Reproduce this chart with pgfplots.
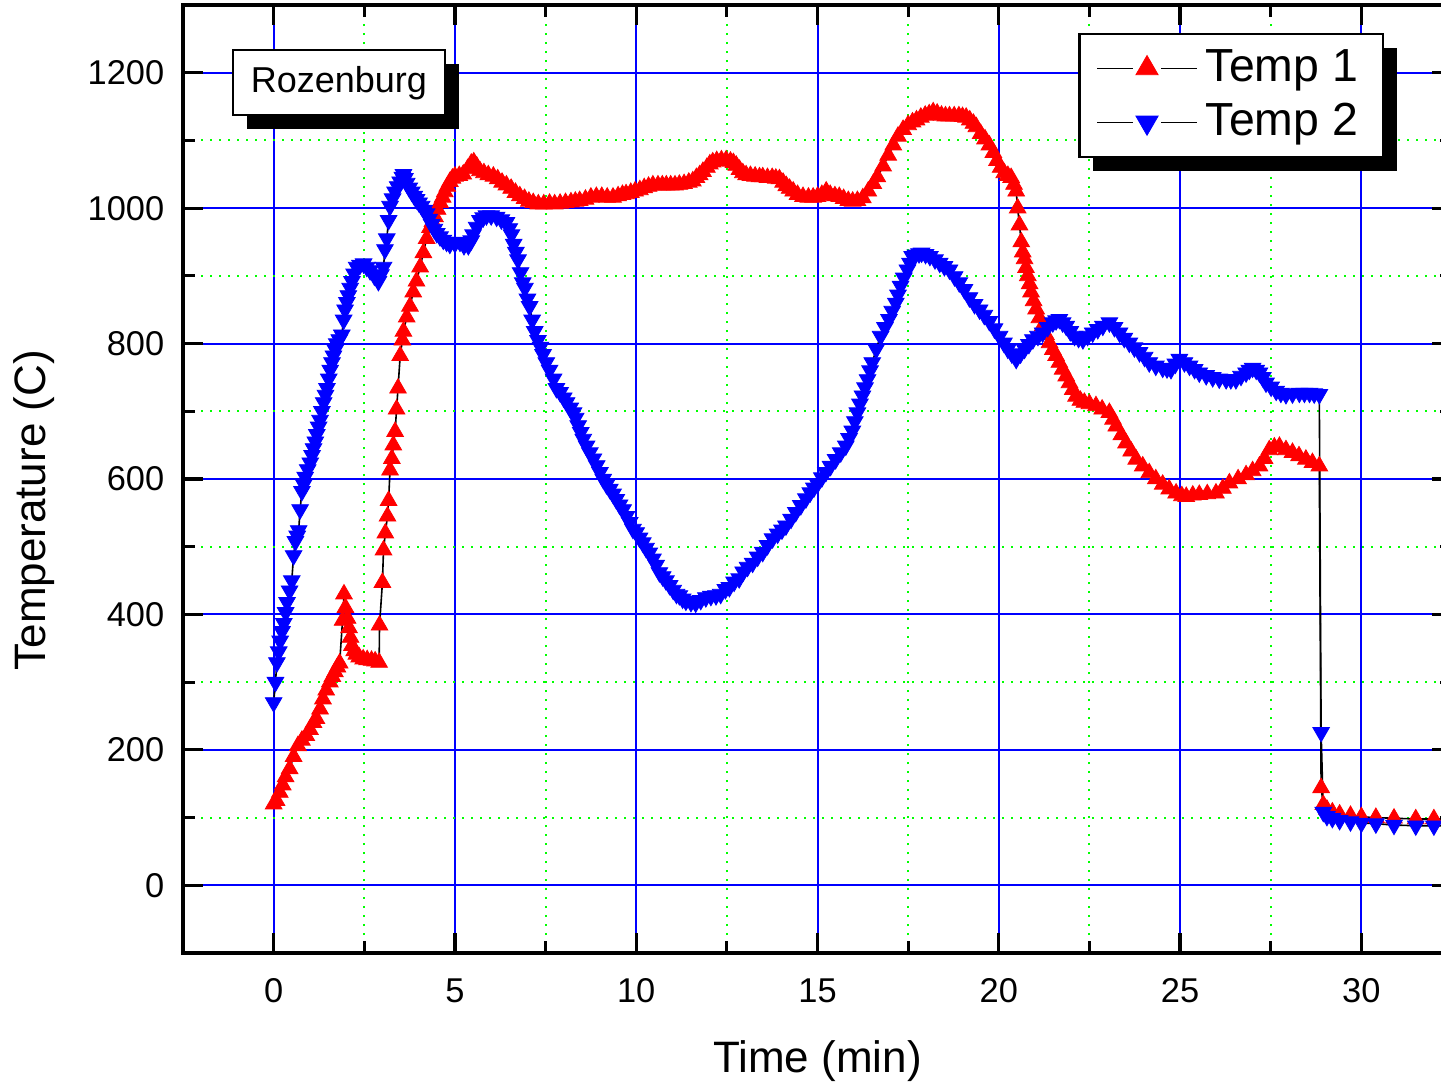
\documentclass[border=0pt]{standalone}
\usepackage{fontspec}
\setmainfont{Liberation Sans}
\usepackage{pgfplots}
\usepackage{pgfplotstable}
\pgfplotsset{compat=1.18}
\usetikzlibrary{shadows}
\definecolor{gridgreen}{RGB}{0,255,0}
\definecolor{pblue}{RGB}{0,0,255}
\definecolor{pred}{RGB}{255,0,0}
\makeatletter
\tikzset{no preactions/.code={\let\tikz@preactions\pgfutil@empty}}
\makeatother

\pgfplotstableread{
t T
0.00 120
0.08 125
0.17 137
0.25 148
0.33 160
0.44 172
0.55 190
0.67 206
0.78 214
0.90 221
1.00 230
1.10 240
1.18 246
1.28 260
1.36 275
1.45 288
1.55 300
1.62 308
1.69 315
1.76 322
1.82 328
1.90 391
1.94 430
1.98 410
2.04 394
2.08 380
2.12 366
2.16 354
2.22 346
2.28 341
2.36 337
2.47 334
2.58 333
2.70 332
2.80 331
2.91 329
2.92 384
3.00 447
3.03 495
3.08 520
3.14 545
3.17 568
3.21 613
3.26 630
3.30 650
3.35 670
3.39 703
3.43 734
3.49 782
3.55 805
3.58 818
3.67 839
3.76 855
3.85 876
3.94 892
4.04 913
4.13 934
4.22 955
4.31 971
4.38 980
4.45 987
4.52 998
4.59 1008
4.66 1016
4.72 1024
4.79 1032
4.86 1039
4.93 1044
5.00 1047
5.12 1048
5.23 1050
5.35 1058
5.45 1066
5.52 1068
5.60 1062
5.69 1055
5.80 1052
5.92 1049
6.06 1047
6.18 1043
6.30 1038
6.42 1034
6.55 1029
6.67 1023
6.79 1018
6.92 1014
7.04 1010
7.16 1008
7.30 1006
7.45 1006
7.61 1007
7.75 1006
7.90 1007
8.05 1008
8.20 1009
8.32 1010
8.44 1011
8.60 1013
8.75 1016
8.90 1017
9.05 1017
9.20 1016
9.36 1016
9.50 1018
9.62 1020
9.72 1021
9.85 1023
9.97 1025
10.10 1027
10.22 1030
10.34 1032
10.46 1034
10.60 1034
10.72 1034
10.83 1034
10.95 1034
11.07 1034
11.19 1035
11.32 1036
11.45 1038
11.56 1040
11.66 1045
11.75 1049
11.84 1054
11.95 1060
12.03 1065
12.11 1068
12.22 1070
12.35 1071
12.48 1071
12.60 1069
12.68 1067
12.76 1063
12.85 1057
12.94 1052
13.03 1049
13.15 1048
13.28 1047
13.40 1046
13.49 1046
13.62 1045
13.75 1045
13.85 1044
13.95 1043
14.05 1038
14.14 1033
14.23 1029
14.33 1025
14.45 1020
14.60 1017
14.75 1016
14.88 1016
15.00 1017
15.12 1020
15.24 1025
15.35 1020
15.48 1018
15.60 1017
15.72 1014
15.85 1011
15.97 1010
16.10 1011
16.25 1015
16.40 1025
16.54 1036
16.65 1046
16.81 1062
16.95 1078
17.09 1093
17.22 1106
17.36 1116
17.50 1123
17.62 1127
17.73 1130
17.85 1134
17.97 1137
18.08 1139
18.19 1142
18.30 1140
18.42 1137
18.53 1136
18.64 1136
18.77 1136
18.90 1136
19.00 1135
19.10 1134
19.20 1130
19.30 1125
19.38 1120
19.50 1110
19.62 1102
19.74 1093
19.85 1082
19.95 1070
20.05 1060
20.15 1052
20.25 1048
20.34 1045
20.42 1035
20.48 1025
20.52 1000
20.57 975
20.62 950
20.66 935
20.71 925
20.75 912
20.80 900
20.85 888
20.89 876
20.96 863
21.03 851
21.12 838
21.21 826
21.30 813
21.40 801
21.49 791
21.58 782
21.67 772
21.76 762
21.86 752
21.95 742
22.04 732
22.13 722
22.25 716
22.36 713
22.50 711
22.68 708
22.85 703
23.05 698
23.15 688
23.24 678
23.38 665
23.51 653
23.65 641
23.79 629
23.97 619
24.15 609
24.33 600
24.52 592
24.70 585
24.89 579
25.05 575
25.17 574
25.35 576
25.53 577
25.75 578
25.99 579
26.18 586
26.36 594
26.60 600
26.82 606
27.00 612
27.19 619
27.33 630
27.46 643
27.60 647
27.74 648
27.92 643
28.10 639
28.28 634
28.47 629
28.65 624
28.84 619
28.89 144
28.95 119
29.05 112
29.20 108
29.40 105
29.70 103
30.00 101
30.40 100
30.90 99
31.50 98
32.00 98
32.50 98
}\tempone

\pgfplotstableread{
t T
0.00 270
0.05 300
0.09 329
0.14 345
0.18 361
0.23 375
0.28 387
0.33 403
0.37 418
0.44 435
0.50 450
0.55 487
0.60 508
0.65 516
0.69 524
0.73 555
0.78 582
0.83 592
0.87 603
0.94 614
1.01 624
1.06 635
1.10 645
1.15 655
1.19 666
1.24 677
1.28 687
1.33 700
1.38 713
1.43 724
1.47 734
1.52 748
1.56 761
1.61 772
1.65 782
1.70 791
1.74 800
1.81 806
1.88 813
1.93 835
1.97 850
2.02 861
2.06 871
2.11 882
2.16 892
2.22 903
2.29 913
2.38 916
2.48 918
2.57 913
2.66 908
2.78 900
2.89 892
2.96 902
3.03 913
3.07 939
3.12 955
3.17 982
3.21 1003
3.28 1014
3.35 1024
3.42 1032
3.49 1039
3.55 1046
3.58 1050
3.62 1044
3.67 1037
3.74 1030
3.81 1024
3.88 1018
3.94 1013
4.01 1008
4.08 1003
4.15 997
4.22 992
4.29 984
4.36 976
4.43 969
4.50 963
4.59 958
4.68 953
4.77 950
4.86 947
5.00 948
5.14 950
5.25 945
5.37 945
5.45 952
5.50 961
5.60 972
5.69 982
5.78 986
5.87 989
6.00 989
6.15 987
6.28 983
6.42 979
6.50 970
6.56 961
6.62 947
6.68 935
6.74 924
6.81 905
6.87 890
6.93 882
7.00 866
7.06 855
7.13 835
7.20 818
7.29 805
7.36 795
7.43 784
7.52 772
7.61 761
7.72 748
7.80 734
7.90 728
8.00 720
8.08 713
8.18 705
8.27 698
8.33 690
8.40 679
8.47 669
8.54 659
8.63 649
8.72 639
8.82 630
8.91 620
9.00 610
9.09 600
9.18 592
9.27 585
9.36 578
9.45 570
9.54 562
9.64 555
9.73 545
9.82 536
9.91 526
10.00 521
10.09 513
10.18 506
10.27 498
10.36 491
10.46 482
10.55 473
10.64 462
10.73 456
10.82 450
10.92 443
11.02 436
11.11 430
11.19 428
11.28 423
11.37 420
11.51 418
11.64 417
11.78 421
11.92 425
12.06 427
12.20 428
12.33 430
12.46 437
12.57 440
12.70 448
12.84 453
12.95 463
13.07 470
13.21 476
13.35 485
13.49 492
13.62 502
13.76 512
13.90 519
14.02 525
14.13 531
14.27 541
14.40 551
14.54 561
14.68 571
14.80 580
14.90 587
15.00 593
15.12 602
15.23 610
15.36 619
15.50 629
15.64 639
15.78 649
15.87 660
15.96 671
16.03 685
16.10 698
16.17 711
16.24 723
16.31 735
16.38 747
16.45 760
16.51 772
16.62 792
16.74 811
16.86 824
16.97 836
17.06 848
17.16 860
17.22 872
17.29 885
17.38 897
17.48 909
17.55 919
17.61 929
17.70 931
17.80 933
17.87 934
17.98 932
18.10 929
18.24 924
18.37 919
18.50 914
18.64 909
18.78 899
18.91 890
19.05 880
19.19 868
19.33 858
19.47 850
19.60 842
19.74 833
19.88 822
20.02 811
20.14 801
20.25 792
20.36 785
20.48 777
20.60 785
20.71 792
20.83 799
20.94 806
21.08 811
21.21 816
21.35 824
21.49 831
21.58 834
21.67 836
21.76 831
21.86 826
21.97 818
22.09 811
22.20 808
22.32 806
22.45 811
22.59 816
22.73 821
22.87 826
23.05 831
23.19 824
23.33 816
23.46 808
23.60 801
23.74 794
23.88 787
24.02 780
24.15 772
24.33 767
24.52 764
24.64 763
24.75 762
24.87 770
24.98 777
25.12 772
25.26 767
25.40 762
25.53 757
25.72 753
25.90 750
26.08 748
26.27 747
26.40 747
26.54 747
26.68 752
26.82 757
26.91 761
27.00 764
27.10 761
27.19 757
27.28 750
27.37 742
27.51 736
27.65 730
27.78 727
27.92 725
28.10 726
28.29 727
28.43 727
28.57 727
28.70 726
28.84 725
28.89 226
28.95 108
29.05 102
29.20 99
29.40 96
29.70 94
30.00 92
30.40 91
30.90 89
31.50 88
32.00 88
32.50 88
}\temptwo

\begin{document}
\begin{tikzpicture}
\begin{axis}[
  scale only axis,
  width=317.25pt, height=237pt,
  xmin=-2.5, xmax=32.5, ymin=-100, ymax=1300,
  xtick={0,5,...,30}, ytick={0,200,...,1200},
  minor x tick num=1, minor y tick num=1,
  grid=both,
  major grid style={pblue, line width=0.5pt},
  minor grid style={gridgreen, line width=0.5pt, dash pattern=on 0.5pt off 1.75pt},
  tick align=inside,
  major tick length=5pt, minor tick length=3pt,
  every tick/.style={black, line width=0.8pt},
  every minor tick/.style={black, line width=0.8pt},
  axis line style={black, line width=0.9pt},
  /pgf/number format/assume math mode=true,
  /pgf/number format/1000 sep={},
  tick label style={font=\fontsize{8.6}{10}\selectfont},
  xticklabel style={inner sep=0pt, yshift=-6.25pt},
  yticklabel style={inner sep=0pt, xshift=-4.5pt},
  xlabel={Time (min)}, ylabel={Temperature (C)},
  label style={font=\fontsize{11}{13}\selectfont},
  xlabel style={at={(axis description cs:0.5,-0.1255)}, anchor=base, inner sep=0pt},
  ylabel style={at={(axis description cs:-0.1009,0.467)}, anchor=south, inner sep=0pt},
  legend cell align=left,
  legend style={at={(axis description cs:0.9464,0.9705)}, anchor=north east,
    draw=black, line width=0.6pt, fill=white,
    font=\fontsize{11.6}{13.5}\selectfont,
    inner xsep=4.2pt, inner ysep=1.8pt,
    nodes={inner sep=2pt, no preactions},
    drop shadow={shadow xshift=3.5pt, shadow yshift=-3.5pt, fill=black, opacity=1}},
  legend image code/.code={
    \draw[no preactions, #1, mark=none] (0pt,0pt) -- (9pt,0pt) (16pt,0pt) -- (25pt,0pt);
    \draw[no preactions, #1, mark size=3.2pt] plot coordinates {(12.5pt,0pt)};
  },
]
\addplot[black, line width=0.4pt, mark=triangle*, mark size=2.4pt,
  mark options={solid, fill=pred, draw=pred, line width=0.2pt}] table[x=t, y=T]{\tempone};
\addlegendentry{Temp 1}
\addplot[black, line width=0.4pt, mark=triangle*, mark size=2.4pt,
  mark options={solid, rotate=180, fill=pblue, draw=pblue, line width=0.2pt}] table[x=t, y=T]{\temptwo};
\addlegendentry{Temp 2}
\node[draw=black, line width=0.6pt, fill=white, font=\fontsize{9}{11}\selectfont,
  minimum width=53pt, minimum height=16.25pt, inner sep=0pt,
  drop shadow={shadow xshift=3.5pt, shadow yshift=-3.5pt, fill=black, opacity=1}]
  at (axis description cs:0.1229,0.918) {Rozenburg};
\end{axis}
\pgfresetboundingbox
\useasboundingbox ([shift={(-45.75pt,-33.25pt)}]current axis.south west) rectangle ([shift={(-2.75pt,1.25pt)}]current axis.north east);
\end{tikzpicture}
\end{document}
